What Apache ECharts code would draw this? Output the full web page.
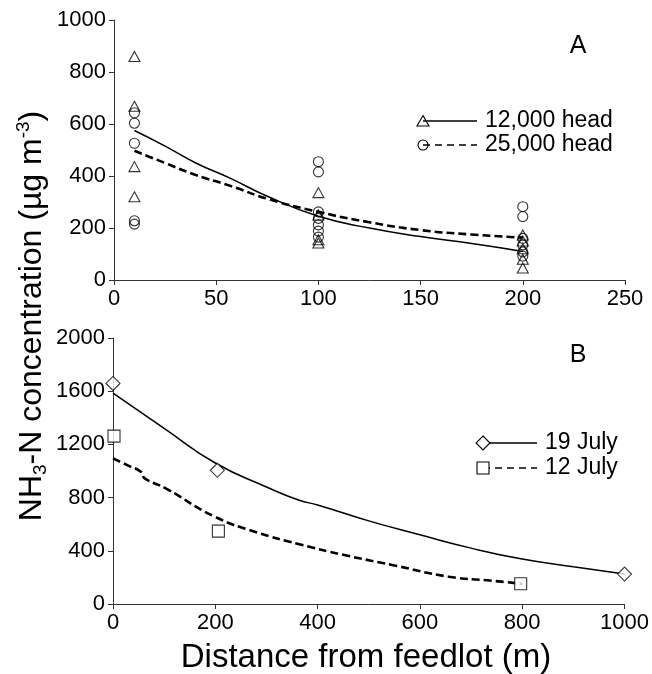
<!DOCTYPE html>
<html><head><meta charset="utf-8">
<script src="https://cdn.jsdelivr.net/npm/echarts@6/dist/echarts.min.js"></script>
<style>html,body{margin:0;padding:0;background:#fff}#c{width:652px;height:674px}</style>
</head><body><div id="c"></div>
<script>
// ---- data ----
const xTicksA = [0, 50, 100, 150, 200, 250];
const yTicksA = [0, 200, 400, 600, 800, 1000];
const xTicksB = [0, 200, 400, 600, 800, 1000];
const yTicksB = [0, 400, 800, 1200, 1600, 2000];

const head12kPoints = [[10,860],[10,668],[10,436],[10,320],[100,336],[100,250],[100,155],[100,142],[200,173],[200,150],[200,120],[200,80],[200,46]];
const head25kPoints = [[10,643],[10,603],[10,526],[10,228],[10,215],[100,455],[100,416],[100,262],[100,237],[100,212],[100,188],[100,165],[200,282],[200,244],[200,160],[200,135],[200,108],[200,92]];
const head12kCurve = [[10,575],[25,515],[40,450],[57,391],[75,322],[100,245],[125,200],[150,167],[175,140],[200,110]];
const head25kCurve = [[10,497],[25,450],[40,404],[57,362],[76,310],[100,262],[125,222],[150,192],[175,175],[200,163]];

const july19Points = [[0,1658],[204,1005],[1000,225]];
const july12Points = [[2,1262],[206,548],[797,152]];
const july19Curve = [[0,1585],[100,1320],[200,1060],[300,880],[364,780],[400,745],[500,625],[600,520],[700,420],[800,338],[900,280],[1000,225]];
const july12Curve = [[0,1095],[30,1040],[55,993],[62,945],[104,868],[198,658],[280,540],[364,450],[450,370],[550,290],[657,205],[740,175],[800,152]];

const legendA = ['12,000 head', '25,000 head'];
const legendB = ['19 July', '12 July'];

// ---- chart ----
const FONT = 'Liberation Sans';
const chart = echarts.init(document.getElementById('c'), null, {renderer: 'canvas'});
const axisCommon = {
  axisLine: {show: true, onZero: false, lineStyle: {color: '#333', width: 1}},
  axisTick: {show: true, length: 5, lineStyle: {color: '#333'}},
  splitLine: {show: false},
  axisLabel: {color: '#000', fontFamily: FONT, fontSize: 22, margin: 8, formatter: v => String(v)}
};
function mkAxis(idx, ticks) {
  return Object.assign({}, axisCommon, {type: 'value', gridIndex: idx, min: ticks[0], max: ticks[ticks.length-1], interval: ticks[1]-ticks[0]});
}
const hollow = {color: 'rgba(0,0,0,0)', borderColor: '#000', borderWidth: 1.1};
const white = {color: '#fff', borderColor: '#000', borderWidth: 1.1};

function legendRow(x, y, symbol, dashed, label, fill) {
  const els = [];
  els.push({type: 'line', shape: {x1: x, y1: y, x2: x + 54, y2: y}, style: {stroke: '#000', lineWidth: 1.6, lineDash: dashed ? [7,5] : null}, z: 1});
  const st = {fill: fill, stroke: '#000', lineWidth: 1.1};
  if (symbol === 'circle') {
    els.push({type: 'circle', shape: {cx: x, cy: y, r: 5}, style: st, z: 2});
  } else if (symbol === 'triangle') {
    els.push({type: 'polygon', shape: {points: [[x, y-5.5], [x+6, y+5], [x-6, y+5]]}, style: st, z: 2});
  } else if (symbol === 'diamond') {
    els.push({type: 'polygon', shape: {points: [[x, y-7], [x+7, y], [x, y+7], [x-7, y]]}, style: st, z: 2});
  } else {
    els.push({type: 'rect', shape: {x: x-6, y: y-6, width: 12, height: 12}, style: st, z: 2});
  }
  els.push({type: 'text', x: x + 62, y: y, style: {text: label, fill: '#000', font: '23px ' + FONT, verticalAlign: 'middle', align: 'left'}});
  return els;
}

const option = {
  animation: false,
  backgroundColor: '#fff',
  grid: [
    {left: 114, top: 20, width: 511, height: 260},
    {left: 113, top: 338, width: 513, height: 266}
  ],
  xAxis: [mkAxis(0, xTicksA), mkAxis(1, xTicksB)],
  yAxis: [mkAxis(0, yTicksA), mkAxis(1, yTicksB)],
  series: [
    {name: legendA[0] + ' fit', type: 'line', xAxisIndex: 0, yAxisIndex: 0, data: head12kCurve, smooth: true, showSymbol: false, lineStyle: {color: '#000', width: 1.5}, z: 2},
    {name: legendA[1] + ' fit', type: 'line', xAxisIndex: 0, yAxisIndex: 0, data: head25kCurve, smooth: true, showSymbol: false, lineStyle: {color: '#000', width: 2.6, type: [8,4]}, z: 2},
    {name: legendA[0], type: 'scatter', xAxisIndex: 0, yAxisIndex: 0, data: head12kPoints, symbol: 'triangle', symbolSize: [11,10], itemStyle: hollow, z: 3},
    {name: legendA[1], type: 'scatter', xAxisIndex: 0, yAxisIndex: 0, data: head25kPoints, symbol: 'circle', symbolSize: 10, itemStyle: hollow, z: 3},
    {name: legendB[0] + ' fit', type: 'line', xAxisIndex: 1, yAxisIndex: 1, data: july19Curve, smooth: true, showSymbol: false, lineStyle: {color: '#000', width: 1.5}, z: 2},
    {name: legendB[1] + ' fit', type: 'line', xAxisIndex: 1, yAxisIndex: 1, data: july12Curve, smooth: true, showSymbol: false, lineStyle: {color: '#000', width: 2.6, type: [8,4]}, z: 2},
    {name: legendB[0], type: 'scatter', xAxisIndex: 1, yAxisIndex: 1, data: july19Points, symbol: 'diamond', symbolSize: [14,14], itemStyle: white, z: 3},
    {name: legendB[1], type: 'scatter', xAxisIndex: 1, yAxisIndex: 1, data: july12Points, symbol: 'rect', symbolSize: 12, itemStyle: white, z: 3}
  ],
  graphic: [
    {type: 'text', x: 578, y: 46, style: {text: 'A', fill: '#000', font: '25px ' + FONT, align: 'center', verticalAlign: 'middle'}},
    {type: 'text', x: 578, y: 355, style: {text: 'B', fill: '#000', font: '25px ' + FONT, align: 'center', verticalAlign: 'middle'}},
    ...legendRow(423, 121, 'triangle', false, legendA[0], 'none'),
    ...legendRow(423, 145, 'circle', true, legendA[1], 'none'),
    ...legendRow(483, 443, 'diamond', false, legendB[0], '#fff'),
    ...legendRow(483, 468, 'rect', true, legendB[1], '#fff'),
    {type: 'text', x: 366, y: 658, style: {text: 'Distance from feedlot (m)', fill: '#000', font: '33px ' + FONT, align: 'center', verticalAlign: 'middle'}},
    {type: 'text', x: 32, y: 316, rotation: Math.PI / 2,
      style: {
        text: '{a|NH}{s|3}{a|-N concentration (µg m}{p|-3}{a|)}',
        align: 'center', verticalAlign: 'middle', fill: '#000',
        rich: {
          a: {fontFamily: FONT, fontSize: 32, lineHeight: 36, fill: '#000'},
          s: {fontFamily: FONT, fontSize: 19, lineHeight: 19, verticalAlign: 'bottom', fill: '#000'},
          p: {fontFamily: FONT, fontSize: 19, lineHeight: 19, verticalAlign: 'top', fill: '#000'}
        }
      }}
  ]
};
chart.setOption(option);
</script>
</body></html>
